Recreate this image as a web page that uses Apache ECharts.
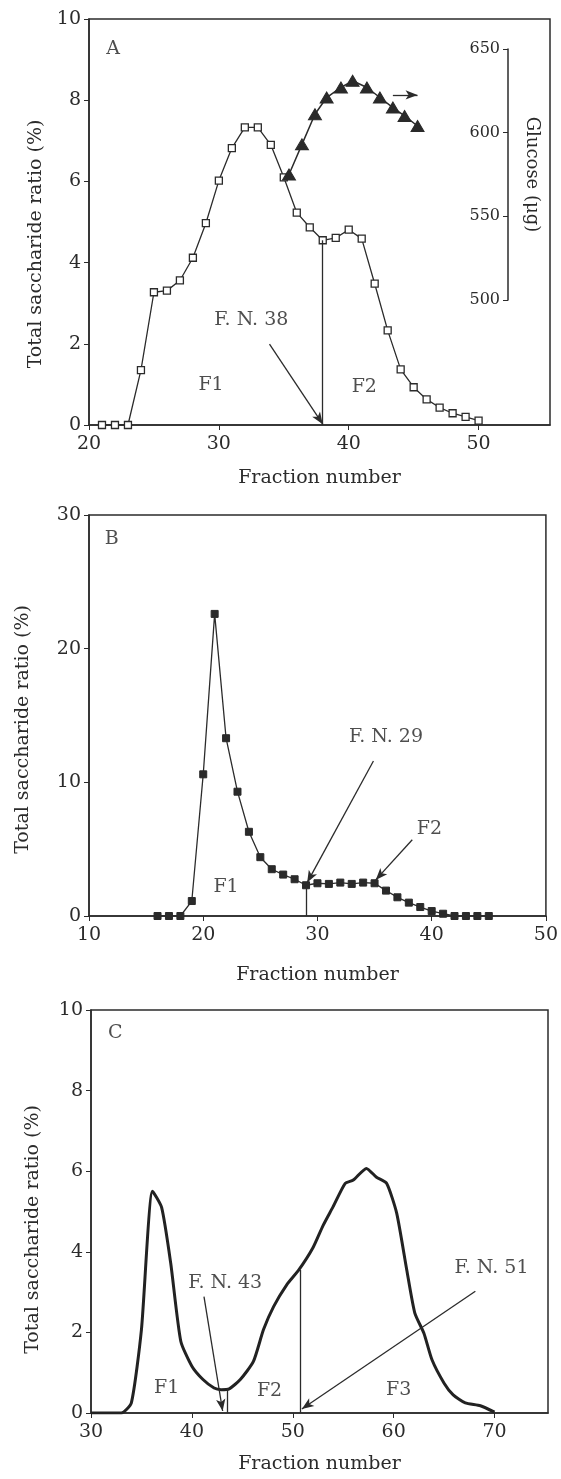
<!DOCTYPE html>
<html>
<head>
<meta charset="utf-8">
<script src="https://cdn.jsdelivr.net/npm/echarts@6/dist/echarts.min.js"></script>
<style>
  html, body { margin: 0; padding: 0; background: #fff; }
  #chart { width: 561px; height: 1479px; }
</style>
</head>
<body>
<div id="chart"></div>
<script>
// 面板A：总糖比例（空心方块）
var fracA = [21,22,23,24,25,26,27,28,29,30,31,32,33,34,35,36,37,38,39,40,41,42,43,44,45,46,47,48,49,50];
var ratioA = [0,0,0,1.35,3.27,3.31,3.56,4.12,4.97,6.02,6.82,7.33,7.33,6.9,6.1,5.23,4.87,4.55,4.61,4.81,4.59,3.48,2.33,1.37,0.93,0.63,0.43,0.29,0.2,0.11];
// 面板A：葡萄糖（实心三角，右轴）
var fracGlc = [35.4,36.4,37.4,38.3,39.4,40.3,41.4,42.4,43.4,44.3,45.3];
var glucose = [575,593,611,621,627,631,627,621,615,610,604];
// 面板B
var fracB = [16,17,18,19,20,21,22,23,24,25,26,27,28,29,30,31,32,33,34,35,36,37,38,39,40,41,42,43,44,45];
var ratioB = [0,0,0,1.12,10.6,22.6,13.3,9.3,6.3,4.4,3.5,3.1,2.75,2.3,2.45,2.4,2.5,2.4,2.5,2.45,1.9,1.4,1.0,0.67,0.37,0.17,0,0,0,0];
// 面板C（连续曲线）
var fracC = [30,32,33,34,35,36.1,37,37.9,38.9,40,41.1,42.2,42.9,43.7,44.8,46.1,47.1,48.1,49.4,50.6,52,53,54,55.2,56,57.3,58.3,59.3,60.3,61.3,62.1,63,63.8,65,65.9,67.1,68.6,70];
var ratioC = [0,0,0,0.25,2.07,5.5,5.1,3.72,1.78,1.16,0.83,0.62,0.58,0.6,0.83,1.28,2.07,2.64,3.18,3.55,4.1,4.65,5.12,5.7,5.78,6.07,5.85,5.7,4.96,3.55,2.48,1.98,1.32,0.74,0.45,0.25,0.18,0.02];
// 刻度
var ticksA = [20,30,40,50];
var ticksB = [10,20,30,40,50];
var ticksC = [30,40,50,60,70];

var INK = '#2b2b2b';
var FONT = 'DejaVu Serif';

function zip(xs, ys) {
    var out = [];
    for (var i = 0; i < xs.length; i++) out.push([xs[i], ys[i]]);
    return out;
}
function tickFmt(list) {
    return function (v) { return list.indexOf(v) >= 0 ? String(v) : ''; };
}
// 文字标注
function notes(gi, items) {
    return {
        type: 'scatter', xAxisIndex: gi, yAxisIndex: gi, silent: true, z: 5,
        symbolSize: 1,
        itemStyle: { color: 'rgba(0,0,0,0)' },
        label: {
            show: true, position: 'inside', formatter: '{b}',
            color: '#222', textBorderWidth: 0, fontFamily: FONT, fontSize: 19
        },
        data: items.map(function (t) { return { name: t[0], value: [t[1], t[2]] }; })
    };
}
// 竖线 / 箭头
function seg(a, b, arrow) {
    return [
        { coord: a, symbol: 'none' },
        { coord: b, symbol: arrow ? 'arrow' : 'none', symbolSize: arrow ? [7, 12] : 0 }
    ];
}
function marks(list) {
    return {
        silent: true, animation: false,
        label: { show: false },
        lineStyle: { color: INK, width: 1.3, type: 'solid' },
        data: list
    };
}
function xAx(gi, min, max, ticks) {
    return {
        type: 'value', gridIndex: gi, min: min, max: max, interval: 10,
        name: 'Fraction number', nameLocation: 'middle', nameGap: 44,
        nameTextStyle: { color: INK, fontFamily: FONT, fontSize: 19 },
        axisLine: { onZero: false, lineStyle: { color: INK, width: 1.5 } },
        axisTick: { length: 5, lineStyle: { color: INK } },
        axisLabel: { color: INK, fontFamily: FONT, fontSize: 19, margin: 10, formatter: tickFmt(ticks), showMaxLabel: ticks.indexOf(max) >= 0 },
        splitLine: { show: false }
    };
}
function yAx(gi, max, interval, gap, pad) {
    return {
        type: 'value', gridIndex: gi, min: 0, max: max, interval: interval,
        name: 'Total saccharide ratio (%)', nameLocation: 'middle', nameGap: gap,
        nameTextStyle: { color: INK, fontFamily: FONT, fontSize: 19, padding: [0, pad, 0, 0] },
        axisLine: { onZero: false, lineStyle: { color: INK, width: 1.5 } },
        axisTick: { length: 5, lineStyle: { color: INK } },
        axisLabel: { color: INK, fontFamily: FONT, fontSize: 19, margin: 8 },
        splitLine: { show: false }
    };
}

var frame = { show: true, borderColor: INK, borderWidth: 1.5, backgroundColor: 'transparent' };

var option = {
    animation: false,
    backgroundColor: '#fff',
    textStyle: { fontFamily: FONT },
    grid: [
        Object.assign({ left: 89, right: 11, top: 19, height: 406 }, frame),
        { left: 89, right: 11, top: 49, height: 251, show: false },
        Object.assign({ left: 89, right: 13, top: 515, height: 401 }, frame),
        Object.assign({ left: 91, right: 13, top: 1010, height: 403 }, frame)
    ],
    xAxis: [
        xAx(0, 20, 55.5, ticksA),
        { type: 'value', gridIndex: 1, min: 20, max: 55.5, show: false },
        Object.assign(xAx(2, 10, 50, ticksB), { nameGap: 50 }),
        Object.assign(xAx(3, 30, 75.3, ticksC), { nameGap: 42 })
    ],
    yAxis: [
        yAx(0, 10, 2, 42, 44),
        {
            type: 'value', gridIndex: 1, position: 'right', offset: -42,
            min: 500, max: 650, interval: 50,
            name: 'Glucose (μg)', nameLocation: 'middle', nameRotate: -90, nameGap: 15,
            nameTextStyle: { color: INK, fontFamily: FONT, fontSize: 18 },
            axisLine: { show: true, lineStyle: { color: INK, width: 1.5 } },
            axisTick: { show: true, inside: true, length: 5, lineStyle: { color: INK } },
            axisLabel: { inside: true, margin: 8, color: INK, fontFamily: FONT, fontSize: 16 },
            splitLine: { show: false }
        },
        yAx(2, 30, 10, 56, 28),
        yAx(3, 10, 2, 48, 36)
    ],
    series: [
        {
            type: 'line', xAxisIndex: 0, yAxisIndex: 0, z: 3,
            data: zip(fracA, ratioA),
            symbol: 'rect', symbolSize: 7,
            lineStyle: { color: INK, width: 1.3 },
            itemStyle: { color: '#fff', borderColor: INK, borderWidth: 1.3 },
            markLine: marks([
                seg([38, 0], [38, 4.55], false),
                seg([33.9, 1.99], [38, 0.02], true),
                seg([43.4, 8.13], [45.3, 8.13], true)
            ])
        },
        {
            type: 'line', xAxisIndex: 1, yAxisIndex: 1, z: 4,
            data: zip(fracGlc, glucose),
            symbol: 'triangle', symbolSize: [13, 11],
            lineStyle: { color: INK, width: 1.5 },
            itemStyle: { color: '#2a2a2a', borderColor: '#2a2a2a' }
        },
        notes(0, [['A', 21.85, 9.26], ['F. N. 38', 32.5, 2.58], ['F1', 29.4, 0.98], ['F2', 41.2, 0.93]]),
        {
            type: 'line', xAxisIndex: 2, yAxisIndex: 2, z: 3,
            data: zip(fracB, ratioB),
            symbol: 'rect', symbolSize: 7,
            lineStyle: { color: INK, width: 1.3 },
            itemStyle: { color: '#2a2a2a', borderColor: '#2a2a2a' },
            markLine: marks([
                seg([29, 0], [29, 2.3], false),
                seg([34.9, 11.6], [29.1, 2.5], true),
                seg([38.3, 5.7], [35.1, 2.7], true)
            ])
        },
        notes(2, [['B', 12, 28.2], ['F. N. 29', 36.0, 13.4], ['F2', 39.8, 6.5], ['F1', 22.0, 2.2]]),
        {
            type: 'line', xAxisIndex: 3, yAxisIndex: 3, z: 3,
            data: zip(fracC, ratioC),
            showSymbol: false, smooth: 0.2,
            lineStyle: { color: '#222', width: 3 },
            markLine: marks([
                seg([43.5, 0], [43.5, 0.6], false),
                seg([50.7, 0], [50.7, 3.55], false),
                seg([41.2, 2.89], [43.05, 0.05], true),
                seg([68.1, 3.02], [50.9, 0.1], true)
            ])
        },
        notes(3, [['C', 32.4, 9.42], ['F. N. 43', 43.3, 3.22], ['F1', 37.5, 0.62], ['F2', 47.7, 0.54], ['F3', 60.5, 0.58], ['F. N. 51', 69.7, 3.6]])
    ]
};

var chart = echarts.init(document.getElementById('chart'));
chart.setOption(option);
</script>
</body>
</html>
